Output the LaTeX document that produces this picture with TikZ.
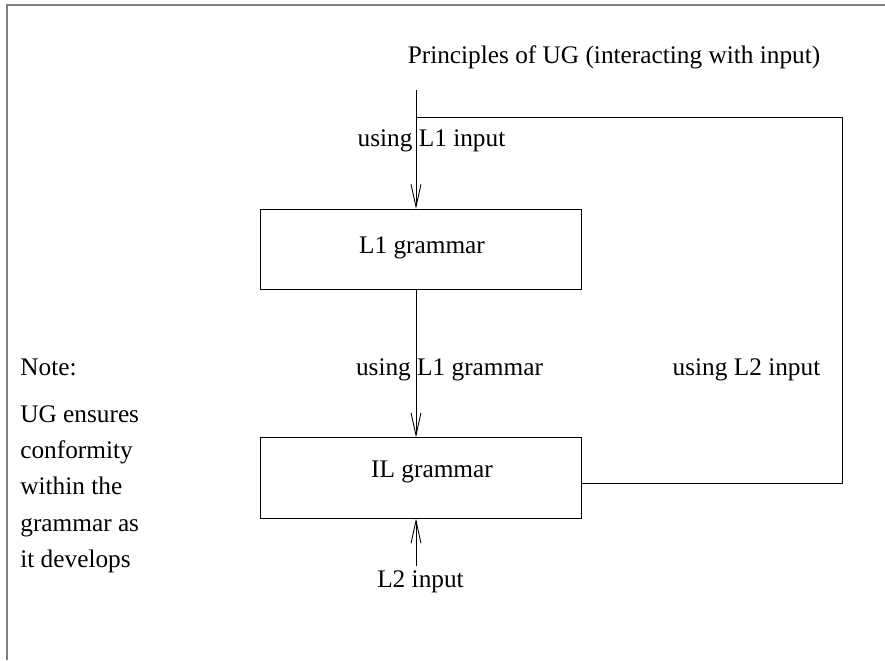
\documentclass[tikz,border=0pt]{standalone}
\usepackage{fontspec}
\setmainfont{Liberation Serif}
\usetikzlibrary{arrows.meta}
\begin{document}
\begin{tikzpicture}[x=0.02cm, y=-0.02cm,
    every node/.style={font=\fontsize{14.4}{20.7}\selectfont, inner sep=0pt},
    label/.style={anchor=base},
    box/.style={draw, line width=0.5pt, minimum width=6.42cm, minimum height=1.61cm},
    link/.style={line width=0.5pt},
    >={Straight Barb[length=4.5mm, width=2mm]}]
    \useasboundingbox (0,0) rectangle (885,660);
    % frame
    \draw[gray, line width=0.8pt] (885,5) -- (7,5) -- (7,660);

    % ==================== 上方 ====================
    \node[label] (ug) at (614,63) {Principles of UG (interacting with input)};
    \coordinate (top) at (416,90);
    \coordinate (fb) at (842,117);
    \node[label] (useinput) at (431.5,146) {using L1 input};

    % --- 两个框 ---
    \node[box] (l1) at (420.5,249.5) {};
    \node[label] (l1text) at (422,253) {L1 grammar};
    \node[box] (il) at (420.5,478) {};
    \node[label] (iltext) at (432,477) {IL grammar};

    \node[label] (usegram) at (449.5,375) {using L1 grammar};
    \node[label] (usel2) at (746.5,375) {using L2 input};
    \node[label] (l2) at (420.5,587) {L2 input};

    % --- 箭头 ---
    \draw[link, ->] (top) -- (top |- l1.north);
    \draw[link, ->] (l1.south -| top) -- (il.north -| top);
    \draw[link, ->] ([yshift=2pt]l2.north -| top) -- (il.south -| top);
    % 反馈线
    \coordinate (ilout) at (il.east |- 0,483);
    \draw[link] (ilout) -| (fb) -- (fb -| top);

    % ==================== 左侧注释 ====================
    \node[label, anchor=base west] (note) at (20,375) {Note:};
    \node[anchor=north west, align=left] (notetext) at (20,405)
        {UG ensures\\conformity\\within the\\grammar as\\it develops};
\end{tikzpicture}
\end{document}
